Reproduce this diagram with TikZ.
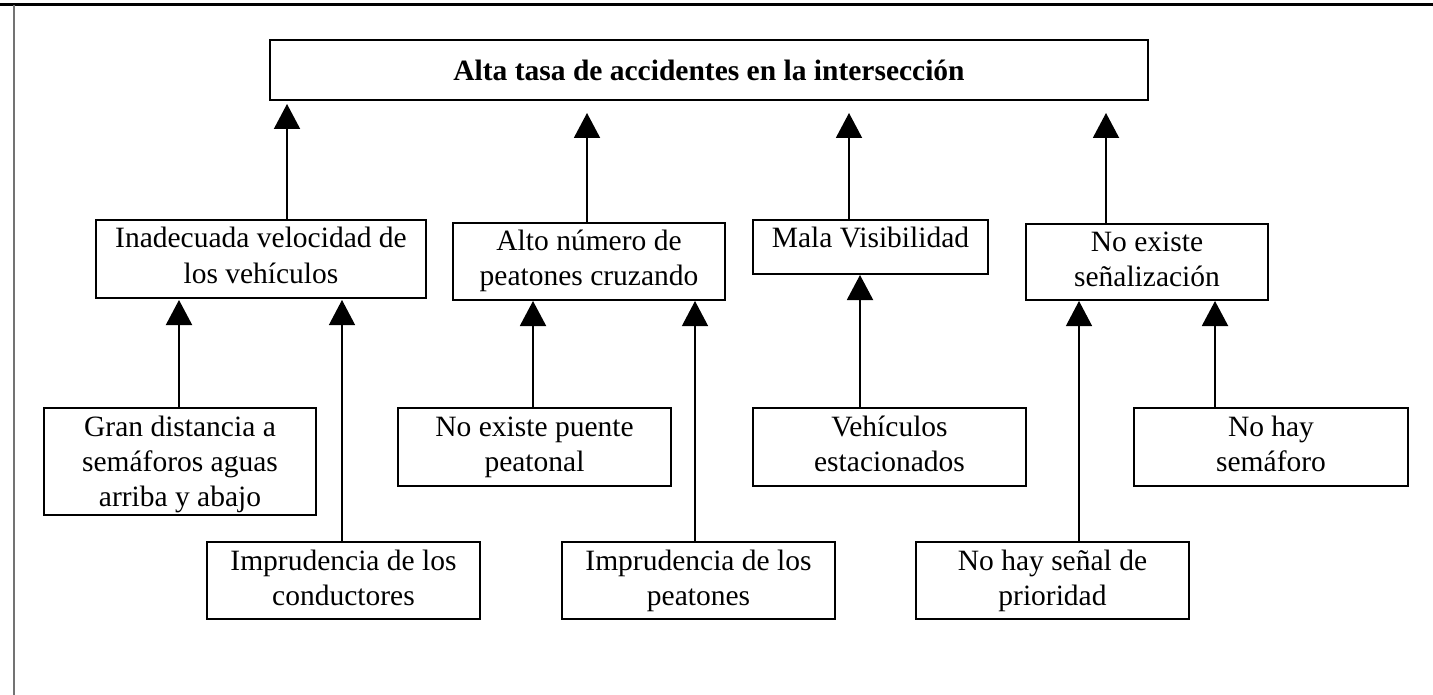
\documentclass[tikz,border=0pt]{standalone}
\usepackage{fontspec}
\setmainfont{Liberation Serif}
\usetikzlibrary{arrows.meta}
\newcommand{\cbx}[4]{\parbox[c][#2pt][t]{#1pt}{\centering\rule{0pt}{#3pt}#4}}
\begin{document}
\begin{tikzpicture}[x=1pt,y=-1pt,
  box/.style={draw, line width=2pt, inner sep=0pt, anchor=north west,
    font=\fontsize{29.5}{35}\selectfont},
  arr/.style={line width=2pt, -{Triangle[length=25pt,width=26pt]}},
  arrthin/.style={line width=1.2pt, -{Triangle[length=25pt,width=26pt]}}]
\useasboundingbox (0,0) rectangle (1433,695);
\fill[white] (0,0) rectangle (1433,695);
\draw[line width=3pt] (0,5) -- (1433,5);
\draw[line width=2pt, black!55] (13.5,5) -- (13.5,695);

\node[box] (top) at (269,39) {\cbx{878}{60}{41}{\bfseries Alta tasa de accidentes en la intersección}};
\node[box] (A) at (95,219) {\cbx{330}{78}{28}{Inadecuada velocidad de\\los vehículos}};
\node[box] (B) at (452,222) {\cbx{272}{77}{28}{Alto número de\\peatones cruzando}};
\node[box] (C) at (752,219) {\cbx{235}{54}{28}{Mala Visibilidad}};
\node[box] (D) at (1025,223) {\cbx{242}{76}{28}{No existe\\señalización}};
\node[box] (a1) at (43,407) {\cbx{272}{107}{28}{Gran distancia a\\semáforos aguas\\arriba y abajo}};
\node[box] (a2) at (206,541) {\cbx{273}{77}{28}{Imprudencia de los\\conductores}};
\node[box] (b1) at (397,407) {\cbx{273}{78}{28}{No existe puente\\peatonal}};
\node[box] (b2) at (561,541) {\cbx{273}{77}{28}{Imprudencia de los\\peatones}};
\node[box] (c1) at (752,407) {\cbx{273}{78}{28}{Vehículos\\estacionados}};
\node[box] (d1) at (915,541) {\cbx{273}{77}{28}{No hay señal de\\prioridad}};
\node[box] (d2) at (1133,407) {\cbx{274}{78}{28}{No hay\\semáforo}};

\coordinate (tA) at (287,104);
\coordinate (tB) at (587,113);
\coordinate (tC) at (849,113);
\coordinate (tD) at (1106,113);
\coordinate (ta1) at (179,300);
\coordinate (ta2) at (342,300);
\coordinate (tb1) at (533,301);
\coordinate (tb2) at (695,301);
\coordinate (tc1) at (860,275);
\coordinate (td1) at (1079,301);
\coordinate (td2) at (1215,301);

\draw[arr] (A.north -| tA) -- (tA);
\draw[arr] (B.north -| tB) -- (tB);
\draw[arr] (C.north -| tC) -- (tC);
\draw[arr] (D.north -| tD) -- (tD);
\draw[arr] (a1.north -| ta1) -- (ta1);
\draw[arrthin] (a2.north -| ta2) -- (ta2);
\draw[arr] (b1.north -| tb1) -- (tb1);
\draw[arrthin] (b2.north -| tb2) -- (tb2);
\draw[arr] (c1.north -| tc1) -- (tc1);
\draw[arrthin] (d1.north -| td1) -- (td1);
\draw[arr] (d2.north -| td2) -- (td2);
\end{tikzpicture}
\end{document}
